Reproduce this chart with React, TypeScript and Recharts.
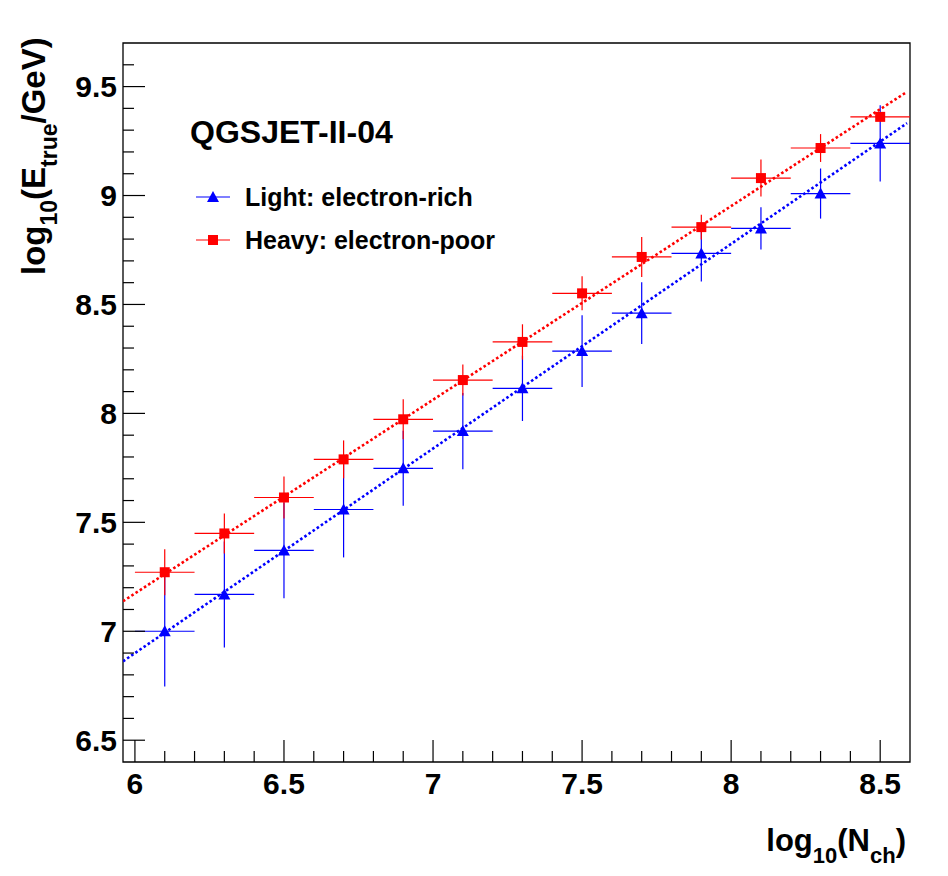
import { ComposedChart, Scatter, ErrorBar, XAxis, YAxis, ReferenceArea } from 'recharts';

// bin centres of log10(Nch)
const binCenters = [6.1, 6.3, 6.5, 6.7, 6.9, 7.1, 7.3, 7.5, 7.7, 7.9, 8.1, 8.3, 8.5];
const binHalfWidth = 0.1;

// light (electron-rich) mean log10(E/GeV) and spread
const lightE = [7.0, 7.169, 7.371, 7.559, 7.748, 7.919, 8.115, 8.286, 8.46, 8.734, 8.849, 9.009, 9.239];
const lightErr = [0.253, 0.243, 0.22, 0.22, 0.172, 0.175, 0.15, 0.165, 0.142, 0.129, 0.097, 0.115, 0.175];

// heavy (electron-poor)
const heavyE = [7.271, 7.449, 7.614, 7.789, 7.973, 8.153, 8.328, 8.551, 8.718, 8.855, 9.08, 9.218, 9.361];
const heavyErr = [0.106, 0.092, 0.096, 0.087, 0.092, 0.071, 0.081, 0.078, 0.092, 0.057, 0.085, 0.064, 0.02];

// linear fits, end points
const lightFitX = [5.96, 8.59];
const lightFitY = [6.862, 9.332];
const heavyFitX = [5.96, 8.59];
const heavyFitY = [7.138, 9.476];

const xTicks = [6, 6.1, 6.2, 6.3, 6.4, 6.5, 6.6, 6.7, 6.8, 6.9, 7, 7.1, 7.2, 7.3, 7.4, 7.5, 7.6, 7.7, 7.8, 7.9, 8, 8.1, 8.2, 8.3, 8.4, 8.5];
const yTicks = [6.5, 6.6, 6.7, 6.8, 6.9, 7, 7.1, 7.2, 7.3, 7.4, 7.5, 7.6, 7.7, 7.8, 7.9, 8, 8.1, 8.2, 8.3, 8.4, 8.5, 8.6, 8.7, 8.8, 8.9, 9, 9.1, 9.2, 9.3, 9.4, 9.5, 9.6];

const FONT = '"Liberation Sans", Arial, Helvetica, sans-serif';
const BLUE = '#0000ff';
const RED = '#ff0000';

const lightData = binCenters.map((x, i) => ({ x, y: lightE[i], ex: binHalfWidth, ey: lightErr[i] }));
const heavyData = binCenters.map((x, i) => ({ x, y: heavyE[i], ex: binHalfWidth, ey: heavyErr[i] }));
const lightFit = lightFitX.map((x, i) => ({ x, y: lightFitY[i] }));
const heavyFit = heavyFitX.map((x, i) => ({ x, y: heavyFitY[i] }));

const isMajor = (v: number) => Math.abs(v * 2 - Math.round(v * 2)) < 1e-6;
const fmt = (v: number) => (Number.isInteger(Math.round(v * 10) / 10) ? String(Math.round(v)) : v.toFixed(1));

function XTick({ x, y, payload }: any) {
  const major = isMajor(payload.value);
  return (
    <g>
      <line x1={x} y1={y} x2={x} y2={y - (major ? 22 : 11)} stroke="#000" strokeWidth={1.2} />
      {major && (
        <text x={x} y={y + 32} textAnchor="middle" fontFamily={FONT} fontWeight="bold" fontSize={30} fill="#000">
          {fmt(payload.value)}
        </text>
      )}
    </g>
  );
}

function YTick({ x, y, payload }: any) {
  const major = isMajor(payload.value);
  return (
    <g>
      <line x1={x} y1={y} x2={x + (major ? 22 : 11)} y2={y} stroke="#000" strokeWidth={1.2} />
      {major && (
        <text x={x - 6} y={y + 10.5} textAnchor="end" fontFamily={FONT} fontWeight="bold" fontSize={30} fill="#000">
          {fmt(payload.value)}
        </text>
      )}
    </g>
  );
}

function Triangle({ cx, cy, fill }: any) {
  return <polygon points={`${cx},${cy - 6} ${cx - 6},${cy + 5} ${cx + 6},${cy + 5}`} fill={fill} />;
}

function Square({ cx, cy, fill }: any) {
  return <rect x={cx - 5} y={cy - 5} width={10} height={10} fill={fill} />;
}

const NoDot = () => <g />;

export default function App() {
  return (
    <div style={{ position: 'absolute', left: 0, top: 0, width: 948, height: 876, background: '#fff' }}>
      <ComposedChart width={948} height={876} margin={{ top: 43, right: 38, left: 0, bottom: 0 }}>
        <XAxis
          type="number"
          dataKey="x"
          domain={[5.96, 8.6]}
          ticks={xTicks}
          allowDataOverflow
          height={114}
          tickSize={0}
          tickMargin={0}
          tickLine={false}
          axisLine={false}
          tick={<XTick />}
          interval={0}
        />
        <YAxis
          type="number"
          dataKey="y"
          domain={[6.4, 9.7]}
          ticks={yTicks}
          allowDataOverflow
          width={123}
          tickSize={0}
          tickMargin={0}
          tickLine={false}
          axisLine={false}
          tick={<YTick />}
          interval={0}
        />
        <ReferenceArea x1={5.96} x2={8.6} y1={6.4} y2={9.7} fill="none" stroke="#000" strokeWidth={1.3} fillOpacity={0} />
        <Scatter data={lightData} fill={BLUE} shape={<Triangle />} isAnimationActive={false}>
          <ErrorBar dataKey="ex" direction="x" width={0} stroke={BLUE} strokeWidth={1.2} />
          <ErrorBar dataKey="ey" direction="y" width={0} stroke={BLUE} strokeWidth={1.2} />
        </Scatter>
        <Scatter data={heavyData} fill={RED} shape={<Square />} isAnimationActive={false}>
          <ErrorBar dataKey="ex" direction="x" width={0} stroke={RED} strokeWidth={1.2} />
          <ErrorBar dataKey="ey" direction="y" width={0} stroke={RED} strokeWidth={1.2} />
        </Scatter>
        <Scatter
          data={lightFit}
          shape={<NoDot />}
          line={{ stroke: BLUE, strokeWidth: 2.6, strokeDasharray: '2.6 2.4' }}
          isAnimationActive={false}
        />
        <Scatter
          data={heavyFit}
          shape={<NoDot />}
          line={{ stroke: RED, strokeWidth: 2.6, strokeDasharray: '2.6 2.4' }}
          isAnimationActive={false}
        />
      </ComposedChart>
      <svg width={948} height={876} style={{ position: 'absolute', left: 0, top: 0, pointerEvents: 'none' }}>
        <g fontFamily={FONT} fontWeight="bold" fill="#000">
          <text x={190} y={143} fontSize={32}>QGSJET-II-04</text>
          <line x1={196} y1={197} x2={230} y2={197} stroke={BLUE} strokeWidth={1.2} />
          <polygon points="213,191 207,202 219,202" fill={BLUE} />
          <text x={245} y={206} fontSize={25}>Light: electron-rich</text>
          <line x1={196} y1={240} x2={230} y2={240} stroke={RED} strokeWidth={1.2} />
          <rect x={208} y={235} width={10} height={10} fill={RED} />
          <text x={245} y={249} fontSize={25}>Heavy: electron-poor</text>
          <text x={906} y={851} textAnchor="end" fontSize={31}>
            log<tspan fontSize={22} dy={12}>10</tspan>
            <tspan dy={-12}>(N</tspan>
            <tspan fontSize={22} dy={12}>ch</tspan>
            <tspan dy={-12}>)</tspan>
          </text>
          <text transform="translate(45,275) rotate(-90)" fontSize={33}>
            log<tspan fontSize={23} dy={12}>10</tspan>
            <tspan dy={-12}>(E</tspan>
            <tspan fontSize={23} dy={12}>true</tspan>
            <tspan dy={-12}>/GeV)</tspan>
          </text>
        </g>
      </svg>
    </div>
  );
}
